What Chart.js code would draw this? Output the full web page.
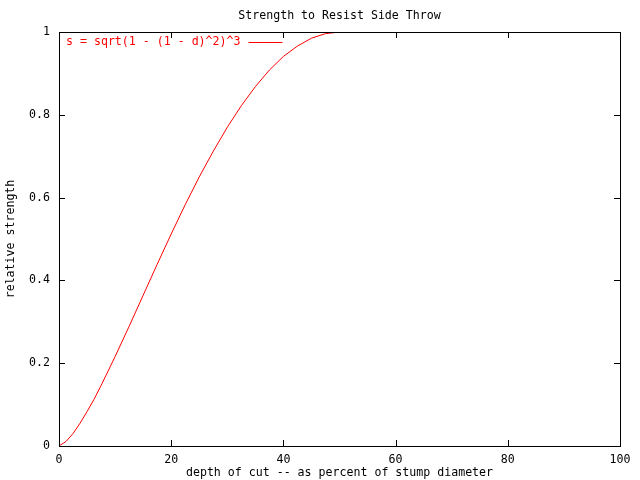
<!DOCTYPE html>
<html>
<head>
<meta charset="utf-8">
<script src="https://cdn.jsdelivr.net/npm/chart.js@4/dist/chart.umd.min.js"></script>
<style>
  html, body { margin: 0; padding: 0; background: #fff; }
  #wrap { width: 640px; height: 480px; }
</style>
</head>
<body>
<div id="wrap"><canvas id="chart" width="640" height="480"></canvas></div>
<script>
// values (depth in percent, relative strength)
var depth    = [0, 1.25, 2.5, 3.75, 5, 6.25, 7.5, 10, 12.5, 15, 17.5, 20, 22.5, 25, 27.5, 30, 32.5, 35, 37.5, 40, 42.5, 45, 47.5, 50];
var strength = [0, 0.011, 0.030, 0.055, 0.083, 0.113, 0.146, 0.216, 0.289, 0.364, 0.439, 0.512, 0.583, 0.650, 0.712, 0.770, 0.822, 0.868, 0.908, 0.941, 0.966, 0.985, 0.996, 1];
var seriesLabel = 's = sqrt(1 - (1 - d)^2)^3';
var chartTitle = 'Strength to Resist Side Throw';
var xTicks = [0, 20, 40, 60, 80, 100];
var yTicks = [0, 0.2, 0.4, 0.6, 0.8, 1];

var FONT = 'DejaVu Sans Mono';
var FSIZE = 11.6;

var points = depth.map(function(d, i) { return { x: d, y: strength[i] }; });

// gnuplot-style frame with inward ticks on all four sides, plus title and key
var framePlugin = {
  id: 'frame',
  afterDatasetsDraw: function(chart) {
    var ctx = chart.ctx, a = chart.chartArea;
    var xs = chart.scales.x, ys = chart.scales.y;
    ctx.save();
    ctx.strokeStyle = '#000';
    ctx.lineWidth = 1;
    ctx.strokeRect(Math.round(a.left) + 0.5, Math.round(a.top) + 0.5,
                   Math.round(a.right - a.left), Math.round(a.bottom - a.top));
    ctx.beginPath();
    xTicks.forEach(function(v) {
      var px = Math.round(xs.getPixelForValue(v)) + 0.5;
      ctx.moveTo(px, a.bottom); ctx.lineTo(px, a.bottom - 6);
      ctx.moveTo(px, a.top);    ctx.lineTo(px, a.top + 6);
    });
    yTicks.forEach(function(v) {
      var py = Math.round(ys.getPixelForValue(v)) + 0.5;
      ctx.moveTo(a.left, py);  ctx.lineTo(a.left + 6, py);
      ctx.moveTo(a.right, py); ctx.lineTo(a.right - 6, py);
    });
    ctx.stroke();

    ctx.font = FSIZE + 'px "' + FONT + '"';
    ctx.textBaseline = 'middle';

    // title, centred over the plot area like gnuplot does
    ctx.fillStyle = '#000';
    ctx.textAlign = 'center';
    ctx.fillText(chartTitle, (a.left + a.right) / 2, 16);

    // key, top-left inside the frame
    ctx.fillStyle = '#ff0000';
    ctx.textAlign = 'left';
    var kx = a.left + 7, ky = a.top + 10;
    ctx.fillText(seriesLabel, kx, ky);
    var w = ctx.measureText(seriesLabel).width;
    ctx.strokeStyle = '#ff0000';
    ctx.beginPath();
    ctx.moveTo(kx + w + 8, Math.round(ky) + 0.5);
    ctx.lineTo(kx + w + 42, Math.round(ky) + 0.5);
    ctx.stroke();
    ctx.restore();
  }
};

new Chart(document.getElementById('chart'), {
  type: 'scatter',
  data: {
    datasets: [{
      label: seriesLabel,
      data: points,
      showLine: true,
      borderColor: '#ff0000',
      backgroundColor: '#ff0000',
      borderWidth: 1,
      pointRadius: 0,
      tension: 0
    }]
  },
  options: {
    responsive: false,
    animation: false,
    layout: { padding: { left: 0, right: 20, top: 32, bottom: 0 } },
    plugins: {
      legend: { display: false },
      tooltip: { enabled: false },
      title: { display: false }
    },
    scales: {
      x: {
        type: 'linear', min: 0, max: 100,
        grid: { display: false, drawTicks: false },
        border: { display: false },
        afterBuildTicks: function(s) { s.ticks = xTicks.map(function(v) { return { value: v }; }); },
        afterFit: function(s) { s.height = 34; },
        ticks: { color: '#000', padding: 7, font: { family: FONT, size: FSIZE } },
        title: {
          display: true, text: 'depth of cut -- as percent of stump diameter',
          color: '#000', font: { family: FONT, size: FSIZE }, padding: { top: 1, bottom: 0 }
        }
      },
      y: {
        type: 'linear', min: 0, max: 1,
        grid: { display: false, drawTicks: false },
        border: { display: false },
        afterBuildTicks: function(s) { s.ticks = yTicks.map(function(v) { return { value: v }; }); },
        afterFit: function(s) { s.width = 59; },
        ticks: {
          color: '#000', padding: 9, font: { family: FONT, size: FSIZE },
          callback: function(v) { return String(Math.round(v * 10) / 10); }
        },
        title: {
          display: true, text: 'relative strength',
          color: '#000', font: { family: FONT, size: FSIZE }, padding: { top: 4, bottom: 0 }
        }
      }
    }
  },
  plugins: [framePlugin]
});
</script>
</body>
</html>
